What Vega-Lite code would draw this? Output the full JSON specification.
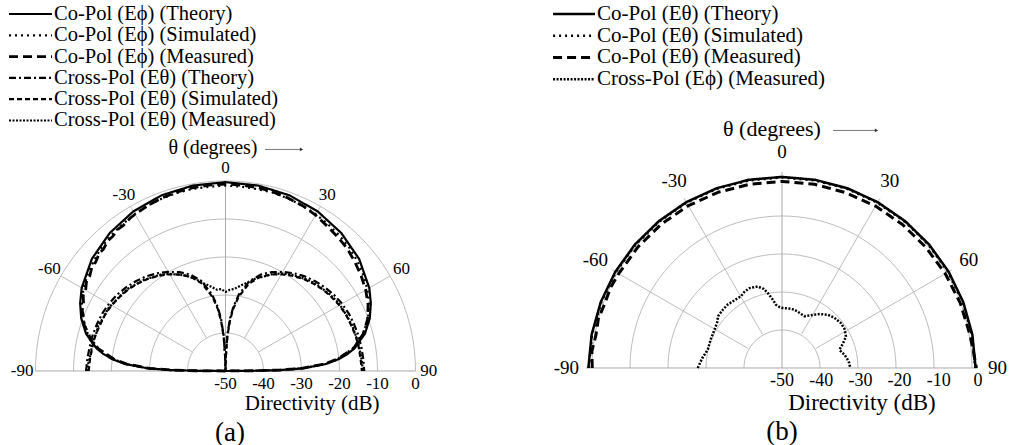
{
  "$schema": "https://vega.github.io/schema/vega-lite/v6.json",
  "background": "white",
  "padding": 0,
  "bounds": "flush",
  "spacing": 0,
  "config": {"view": {"stroke": null}, "text": {"font": "Liberation Serif", "color": "black"}, "mark": {"font": "Liberation Serif"}},
  "datasets": {
    "a_curves": [
      {"s":"coT","t":-90,"d":-50},{"s":"coT","t":-89.6,"d":-43},{"s":"coT","t":-89,"d":-35.5},{"s":"coT","t":-88,"d":-29.5},{"s":"coT","t":-86,"d":-23.5},{"s":"coT","t":-84,"d":-20},{"s":"coT","t":-82,"d":-17.5},{"s":"coT","t":-80,"d":-15.5},{"s":"coT","t":-75,"d":-12},{"s":"coT","t":-70,"d":-9.6},{"s":"coT","t":-65,"d":-7.8},{"s":"coT","t":-60,"d":-6.3},{"s":"coT","t":-50,"d":-4.1},{"s":"coT","t":-40,"d":-2.6},{"s":"coT","t":-30,"d":-1.5},{"s":"coT","t":-20,"d":-0.8},{"s":"coT","t":-10,"d":-0.45},{"s":"coT","t":0,"d":-0.3},{"s":"coT","t":10,"d":-0.45},{"s":"coT","t":20,"d":-0.8},{"s":"coT","t":30,"d":-1.5},{"s":"coT","t":40,"d":-2.6},{"s":"coT","t":50,"d":-4.1},{"s":"coT","t":60,"d":-6.3},{"s":"coT","t":65,"d":-7.8},{"s":"coT","t":70,"d":-9.6},{"s":"coT","t":75,"d":-12},{"s":"coT","t":80,"d":-15.5},{"s":"coT","t":82,"d":-17.5},{"s":"coT","t":84,"d":-20},{"s":"coT","t":86,"d":-23.5},{"s":"coT","t":88,"d":-29.5},{"s":"coT","t":89,"d":-35.5},{"s":"coT","t":89.6,"d":-43},{"s":"coT","t":90,"d":-50},
      {"s":"coS","t":-90,"d":-50},{"s":"coS","t":-89.5,"d":-41},{"s":"coS","t":-89,"d":-35},{"s":"coS","t":-88,"d":-29.5},{"s":"coS","t":-86,"d":-23.8},{"s":"coS","t":-84,"d":-20.4},{"s":"coS","t":-80,"d":-16},{"s":"coS","t":-75,"d":-12.5},{"s":"coS","t":-70,"d":-10.1},{"s":"coS","t":-65,"d":-8.3},{"s":"coS","t":-60,"d":-6.8},{"s":"coS","t":-55,"d":-5.7},{"s":"coS","t":-50,"d":-4.8},{"s":"coS","t":-45,"d":-3.9},{"s":"coS","t":-40,"d":-3.3},{"s":"coS","t":-35,"d":-2.8},{"s":"coS","t":-30,"d":-2.3},{"s":"coS","t":-25,"d":-1.9},{"s":"coS","t":-20,"d":-1.6},{"s":"coS","t":-15,"d":-1.4},{"s":"coS","t":-10,"d":-1.3},{"s":"coS","t":-5,"d":-1.3},{"s":"coS","t":0,"d":-1.2},{"s":"coS","t":5,"d":-1.3},{"s":"coS","t":10,"d":-1.4},{"s":"coS","t":15,"d":-1.4},{"s":"coS","t":20,"d":-1.7},{"s":"coS","t":25,"d":-2.0},{"s":"coS","t":30,"d":-2.4},{"s":"coS","t":35,"d":-2.9},{"s":"coS","t":40,"d":-3.4},{"s":"coS","t":45,"d":-4.0},{"s":"coS","t":50,"d":-4.8},{"s":"coS","t":55,"d":-5.8},{"s":"coS","t":60,"d":-6.9},{"s":"coS","t":65,"d":-8.3},{"s":"coS","t":70,"d":-10.1},{"s":"coS","t":75,"d":-12.5},{"s":"coS","t":80,"d":-16},{"s":"coS","t":84,"d":-20.4},{"s":"coS","t":86,"d":-23.8},{"s":"coS","t":88,"d":-29.5},{"s":"coS","t":89,"d":-35},{"s":"coS","t":89.5,"d":-41},{"s":"coS","t":90,"d":-50},
      {"s":"coM","t":-90,"d":-50},{"s":"coM","t":-89.5,"d":-42},{"s":"coM","t":-89,"d":-36},{"s":"coM","t":-88,"d":-30},{"s":"coM","t":-86,"d":-24},{"s":"coM","t":-84,"d":-20.5},{"s":"coM","t":-80,"d":-16},{"s":"coM","t":-77,"d":-13.5},{"s":"coM","t":-75,"d":-12.8},{"s":"coM","t":-72,"d":-10.9},{"s":"coM","t":-70,"d":-10.4},{"s":"coM","t":-67,"d":-9.0},{"s":"coM","t":-65,"d":-8.8},{"s":"coM","t":-62,"d":-7.6},{"s":"coM","t":-60,"d":-7.5},{"s":"coM","t":-57,"d":-6.4},{"s":"coM","t":-55,"d":-6.4},{"s":"coM","t":-52,"d":-5.4},{"s":"coM","t":-50,"d":-5.4},{"s":"coM","t":-47,"d":-4.6},{"s":"coM","t":-45,"d":-4.6},{"s":"coM","t":-42,"d":-3.8},{"s":"coM","t":-40,"d":-3.8},{"s":"coM","t":-37,"d":-3.2},{"s":"coM","t":-35,"d":-3.2},{"s":"coM","t":-32,"d":-2.6},{"s":"coM","t":-30,"d":-2.4},{"s":"coM","t":-25,"d":-1.9},{"s":"coM","t":-20,"d":-1.5},{"s":"coM","t":-15,"d":-1.2},{"s":"coM","t":-10,"d":-1.0},{"s":"coM","t":-5,"d":-0.9},{"s":"coM","t":0,"d":-0.8},{"s":"coM","t":5,"d":-0.9},{"s":"coM","t":10,"d":-1.0},{"s":"coM","t":15,"d":-1.3},{"s":"coM","t":20,"d":-1.6},{"s":"coM","t":25,"d":-2.0},{"s":"coM","t":30,"d":-2.6},{"s":"coM","t":35,"d":-3.4},{"s":"coM","t":40,"d":-4.0},{"s":"coM","t":45,"d":-4.6},{"s":"coM","t":50,"d":-5.5},{"s":"coM","t":55,"d":-6.4},{"s":"coM","t":60,"d":-7.4},{"s":"coM","t":65,"d":-8.6},{"s":"coM","t":70,"d":-10.2},{"s":"coM","t":75,"d":-12.5},{"s":"coM","t":80,"d":-15.8},{"s":"coM","t":84,"d":-20.5},{"s":"coM","t":86,"d":-24},{"s":"coM","t":88,"d":-30},{"s":"coM","t":89,"d":-36},{"s":"coM","t":89.5,"d":-42},{"s":"coM","t":90,"d":-50},
      {"s":"xT","t":-90,"d":-13.3},{"s":"xT","t":-85,"d":-13.5},{"s":"xT","t":-80,"d":-13.7},{"s":"xT","t":-75,"d":-13.8},{"s":"xT","t":-70,"d":-14.0},{"s":"xT","t":-65,"d":-14.2},{"s":"xT","t":-60,"d":-14.6},{"s":"xT","t":-55,"d":-15.1},{"s":"xT","t":-50,"d":-15.8},{"s":"xT","t":-45,"d":-16.6},{"s":"xT","t":-40,"d":-17.5},{"s":"xT","t":-35,"d":-18.6},{"s":"xT","t":-30,"d":-19.9},{"s":"xT","t":-25,"d":-21.3},{"s":"xT","t":-20,"d":-23.0},{"s":"xT","t":-15,"d":-25.5},{"s":"xT","t":-10,"d":-29.5},{"s":"xT","t":-7,"d":-33},{"s":"xT","t":-5,"d":-36},{"s":"xT","t":-3,"d":-40.5},{"s":"xT","t":-1.5,"d":-46},{"s":"xT","t":0,"d":-50},{"s":"xT","t":1.5,"d":-46},{"s":"xT","t":3,"d":-40.5},{"s":"xT","t":5,"d":-36},{"s":"xT","t":7,"d":-33},{"s":"xT","t":10,"d":-29.5},{"s":"xT","t":15,"d":-25.5},{"s":"xT","t":20,"d":-23},{"s":"xT","t":25,"d":-21.3},{"s":"xT","t":30,"d":-19.9},{"s":"xT","t":35,"d":-18.6},{"s":"xT","t":40,"d":-17.5},{"s":"xT","t":45,"d":-16.6},{"s":"xT","t":50,"d":-15.8},{"s":"xT","t":55,"d":-15.1},{"s":"xT","t":60,"d":-14.6},{"s":"xT","t":65,"d":-14.2},{"s":"xT","t":70,"d":-14.0},{"s":"xT","t":75,"d":-13.8},{"s":"xT","t":80,"d":-13.7},{"s":"xT","t":85,"d":-13.6},{"s":"xT","t":90,"d":-13.5},
      {"s":"xS","t":-90,"d":-14.0},{"s":"xS","t":-85,"d":-14.2},{"s":"xS","t":-80,"d":-14.4},{"s":"xS","t":-75,"d":-14.5},{"s":"xS","t":-70,"d":-14.8},{"s":"xS","t":-65,"d":-15.0},{"s":"xS","t":-60,"d":-15.4},{"s":"xS","t":-55,"d":-16.0},{"s":"xS","t":-50,"d":-16.6},{"s":"xS","t":-45,"d":-17.4},{"s":"xS","t":-40,"d":-18.3},{"s":"xS","t":-35,"d":-19.4},{"s":"xS","t":-30,"d":-20.6},{"s":"xS","t":-25,"d":-22.0},{"s":"xS","t":-20,"d":-23.7},{"s":"xS","t":-15,"d":-26.2},{"s":"xS","t":-10,"d":-30.2},{"s":"xS","t":-7,"d":-33.6},{"s":"xS","t":-5,"d":-36.8},{"s":"xS","t":-3,"d":-41},{"s":"xS","t":-1.5,"d":-46},{"s":"xS","t":0,"d":-50},{"s":"xS","t":1.5,"d":-46},{"s":"xS","t":3,"d":-41},{"s":"xS","t":5,"d":-36.8},{"s":"xS","t":7,"d":-33.6},{"s":"xS","t":10,"d":-30.2},{"s":"xS","t":15,"d":-26.2},{"s":"xS","t":20,"d":-23.7},{"s":"xS","t":25,"d":-22},{"s":"xS","t":30,"d":-20.6},{"s":"xS","t":35,"d":-19.4},{"s":"xS","t":40,"d":-18.3},{"s":"xS","t":45,"d":-17.4},{"s":"xS","t":50,"d":-16.6},{"s":"xS","t":55,"d":-16},{"s":"xS","t":60,"d":-15.4},{"s":"xS","t":65,"d":-15},{"s":"xS","t":70,"d":-14.8},{"s":"xS","t":75,"d":-14.5},{"s":"xS","t":80,"d":-14.4},{"s":"xS","t":85,"d":-14.3},{"s":"xS","t":90,"d":-14.1},
      {"s":"xM","t":-90,"d":-13.6},{"s":"xM","t":-86,"d":-13.9},{"s":"xM","t":-82,"d":-14.3},{"s":"xM","t":-78,"d":-14.1},{"s":"xM","t":-74,"d":-14.6},{"s":"xM","t":-70,"d":-14.4},{"s":"xM","t":-66,"d":-15.0},{"s":"xM","t":-62,"d":-15.0},{"s":"xM","t":-58,"d":-15.6},{"s":"xM","t":-54,"d":-16.0},{"s":"xM","t":-50,"d":-16.4},{"s":"xM","t":-46,"d":-17.2},{"s":"xM","t":-42,"d":-17.8},{"s":"xM","t":-38,"d":-18.7},{"s":"xM","t":-34,"d":-19.4},{"s":"xM","t":-30,"d":-20.5},{"s":"xM","t":-26,"d":-21.8},{"s":"xM","t":-22,"d":-23.0},{"s":"xM","t":-18,"d":-24.6},{"s":"xM","t":-14,"d":-26.2},{"s":"xM","t":-10,"d":-27.4},{"s":"xM","t":-6,"d":-28.5},{"s":"xM","t":-3,"d":-28.4},{"s":"xM","t":0,"d":-29.2},{"s":"xM","t":3,"d":-28.6},{"s":"xM","t":6,"d":-28.3},{"s":"xM","t":10,"d":-27.2},{"s":"xM","t":14,"d":-26.0},{"s":"xM","t":18,"d":-24.4},{"s":"xM","t":22,"d":-23.2},{"s":"xM","t":26,"d":-21.6},{"s":"xM","t":30,"d":-20.4},{"s":"xM","t":34,"d":-19.3},{"s":"xM","t":38,"d":-18.6},{"s":"xM","t":42,"d":-17.7},{"s":"xM","t":46,"d":-17.0},{"s":"xM","t":50,"d":-16.5},{"s":"xM","t":54,"d":-15.9},{"s":"xM","t":58,"d":-15.4},{"s":"xM","t":62,"d":-15.1},{"s":"xM","t":66,"d":-14.9},{"s":"xM","t":70,"d":-14.6},{"s":"xM","t":74,"d":-14.5},{"s":"xM","t":78,"d":-14.3},{"s":"xM","t":82,"d":-14.2},{"s":"xM","t":86,"d":-14.0},{"s":"xM","t":90,"d":-13.9}
    ],
    "b_curves": [
      {"s":"coT","t":-90,"d":-0.6},{"s":"coT","t":-80,"d":-0.7},{"s":"coT","t":-70,"d":-0.8},{"s":"coT","t":-60,"d":-0.9},{"s":"coT","t":-50,"d":-1.0},{"s":"coT","t":-40,"d":-1.1},{"s":"coT","t":-30,"d":-1.15},{"s":"coT","t":-20,"d":-1.2},{"s":"coT","t":-10,"d":-1.25},{"s":"coT","t":0,"d":-1.25},{"s":"coT","t":10,"d":-1.25},{"s":"coT","t":20,"d":-1.2},{"s":"coT","t":30,"d":-1.15},{"s":"coT","t":40,"d":-1.1},{"s":"coT","t":50,"d":-1.0},{"s":"coT","t":60,"d":-0.9},{"s":"coT","t":70,"d":-0.8},{"s":"coT","t":80,"d":-0.7},{"s":"coT","t":90,"d":-0.6},
      {"s":"coS","t":-90,"d":-0.7},{"s":"coS","t":-80,"d":-0.8},{"s":"coS","t":-70,"d":-0.95},{"s":"coS","t":-60,"d":-1.05},{"s":"coS","t":-50,"d":-1.15},{"s":"coS","t":-40,"d":-1.25},{"s":"coS","t":-30,"d":-1.3},{"s":"coS","t":-20,"d":-1.35},{"s":"coS","t":-10,"d":-1.4},{"s":"coS","t":0,"d":-1.4},{"s":"coS","t":10,"d":-1.4},{"s":"coS","t":20,"d":-1.35},{"s":"coS","t":30,"d":-1.3},{"s":"coS","t":40,"d":-1.25},{"s":"coS","t":50,"d":-1.15},{"s":"coS","t":60,"d":-1.05},{"s":"coS","t":70,"d":-0.95},{"s":"coS","t":80,"d":-0.8},{"s":"coS","t":90,"d":-0.7},
      {"s":"coM","t":-90,"d":-1.6},{"s":"coM","t":-85,"d":-1.3},{"s":"coM","t":-80,"d":-1.8},{"s":"coM","t":-75,"d":-1.5},{"s":"coM","t":-70,"d":-1.9},{"s":"coM","t":-65,"d":-1.7},{"s":"coM","t":-60,"d":-1.9},{"s":"coM","t":-50,"d":-2.0},{"s":"coM","t":-40,"d":-2.1},{"s":"coM","t":-30,"d":-2.2},{"s":"coM","t":-20,"d":-2.3},{"s":"coM","t":-10,"d":-2.4},{"s":"coM","t":0,"d":-2.4},{"s":"coM","t":10,"d":-2.4},{"s":"coM","t":20,"d":-2.4},{"s":"coM","t":30,"d":-2.3},{"s":"coM","t":40,"d":-2.2},{"s":"coM","t":50,"d":-2.1},{"s":"coM","t":60,"d":-1.9},{"s":"coM","t":70,"d":-1.6},{"s":"coM","t":80,"d":-1.3},{"s":"coM","t":85,"d":-1.0},{"s":"coM","t":90,"d":-0.4},
      {"s":"xM","t":-90,"d":-28.5},{"s":"xM","t":-83,"d":-29.5},{"s":"xM","t":-76,"d":-30.5},{"s":"xM","t":-68,"d":-30.4},{"s":"xM","t":-60.5,"d":-30.2},{"s":"xM","t":-55,"d":-29.8},{"s":"xM","t":-51,"d":-29},{"s":"xM","t":-45,"d":-28.8},{"s":"xM","t":-40.6,"d":-28.7},{"s":"xM","t":-35,"d":-28.9},{"s":"xM","t":-29.8,"d":-28.9},{"s":"xM","t":-26,"d":-28.3},{"s":"xM","t":-22.2,"d":-28},{"s":"xM","t":-16.6,"d":-28.3},{"s":"xM","t":-13,"d":-29.3},{"s":"xM","t":-10.8,"d":-30.5},{"s":"xM","t":-8,"d":-32.2},{"s":"xM","t":-5.4,"d":-33.8},{"s":"xM","t":-2,"d":-34.5},{"s":"xM","t":0.7,"d":-34.7},{"s":"xM","t":6,"d":-34.7},{"s":"xM","t":11.9,"d":-34.8},{"s":"xM","t":17,"d":-35.2},{"s":"xM","t":23.3,"d":-35.6},{"s":"xM","t":27,"d":-35},{"s":"xM","t":31.2,"d":-34.1},{"s":"xM","t":35,"d":-33.2},{"s":"xM","t":40.6,"d":-32.1},{"s":"xM","t":46,"d":-31.5},{"s":"xM","t":52.7,"d":-31.1},{"s":"xM","t":58,"d":-31.2},{"s":"xM","t":63.7,"d":-31.8},{"s":"xM","t":68,"d":-33.2},{"s":"xM","t":72.3,"d":-34.6},{"s":"xM","t":75,"d":-34.3},{"s":"xM","t":77.9,"d":-33.7},{"s":"xM","t":82,"d":-33.2},{"s":"xM","t":85.7,"d":-32.8},{"s":"xM","t":90,"d":-32.6}
    ],
    "a_legend": [
      {"s":"coT","k":0,"l":"Co-Pol (Eϕ) (Theory)"},
      {"s":"coS","k":1,"l":"Co-Pol (Eϕ) (Simulated)"},
      {"s":"coM","k":2,"l":"Co-Pol (Eϕ) (Measured)"},
      {"s":"xT","k":3,"l":"Cross-Pol (Eθ) (Theory)"},
      {"s":"xS","k":4,"l":"Cross-Pol (Eθ) (Simulated)"},
      {"s":"xM","k":5,"l":"Cross-Pol (Eθ) (Measured)"}
    ],
    "b_legend": [
      {"s":"coT","k":0,"l":"Co-Pol (Eθ) (Theory)"},
      {"s":"coS","k":1,"l":"Co-Pol (Eθ) (Simulated)"},
      {"s":"coM","k":2,"l":"Co-Pol (Eθ) (Measured)"},
      {"s":"xM","k":3,"l":"Cross-Pol (Eϕ) (Measured)"}
    ],
    "rings": [{"r":10},{"r":20},{"r":30},{"r":40},{"r":50}],
    "spokes": [{"a":-60},{"a":-30},{"a":30},{"a":60}],
    "angles": [{"a":-90,"l":"-90"},{"a":-60,"l":"-60"},{"a":-30,"l":"-30"},{"a":0,"l":"0"},{"a":30,"l":"30"},{"a":60,"l":"60"},{"a":90,"l":"90"}],
    "dbs": [{"v":-50,"l":"-50"},{"v":-40,"l":"-40"},{"v":-30,"l":"-30"},{"v":-20,"l":"-20"},{"v":-10,"l":"-10"},{"v":0,"l":"0"}],
    "one": [{}]
  },
  "hconcat": [
    {
      "width": 505,
      "height": 445,
      "layer": [
        {
          "data": {"name": "rings"},
          "mark": {"type": "point", "shape": "M -1 0 A 1 1 0 0 1 1 0", "filled": false, "color": "#bdbdbd", "strokeWidth": 1, "opacity": 1},
          "encoding": {
            "x": {"datum": 0, "type": "quantitative", "scale": {"domain": [-59.342, 73.553], "nice": false, "zero": false}, "axis": null},
            "y": {"datum": 0, "type": "quantitative", "scale": {"domain": [-19.474, 97.632], "nice": false, "zero": false}, "axis": null},
            "size": {"field": "r", "type": "quantitative", "scale": {"type": "pow", "exponent": 2, "domain": [0, 50], "range": [0, 144400], "zero": true}, "legend": null}
          }
        },
        {
          "data": {"name": "one"},
          "mark": {"type": "rule", "color": "#aaaaaa", "strokeWidth": 1},
          "encoding": {
            "x": {"datum": -50, "type": "quantitative", "scale": {"domain": [-59.342, 73.553], "nice": false, "zero": false}, "axis": null},
            "x2": {"datum": 50},
            "y": {"datum": 0, "type": "quantitative", "scale": {"domain": [-19.474, 97.632], "nice": false, "zero": false}, "axis": null}
          }
        },
        {
          "data": {"name": "one"},
          "mark": {"type": "rule", "color": "#aaaaaa", "strokeWidth": 1},
          "encoding": {
            "x": {"datum": 0, "type": "quantitative", "scale": {"domain": [-59.342, 73.553], "nice": false, "zero": false}, "axis": null},
            "y": {"datum": 0, "type": "quantitative", "scale": {"domain": [-19.474, 97.632], "nice": false, "zero": false}, "axis": null},
            "y2": {"datum": 50}
          }
        },
        {
          "data": {"name": "spokes"},
          "transform": [
            {"calculate": "10*sin(datum.a*PI/180)", "as": "sx1"},
            {"calculate": "10*cos(datum.a*PI/180)", "as": "sy1"},
            {"calculate": "50*sin(datum.a*PI/180)", "as": "sx2"},
            {"calculate": "50*cos(datum.a*PI/180)", "as": "sy2"}
          ],
          "mark": {"type": "rule", "color": "#bdbdbd", "strokeWidth": 1},
          "encoding": {
            "x": {"field": "sx1", "type": "quantitative", "scale": {"domain": [-59.342, 73.553], "nice": false, "zero": false}, "axis": null},
            "y": {"field": "sy1", "type": "quantitative", "scale": {"domain": [-19.474, 97.632], "nice": false, "zero": false}, "axis": null},
            "x2": {"field": "sx2"},
            "y2": {"field": "sy2"}
          }
        },
        {
          "data": {"name": "a_curves"},
          "transform": [
            {"calculate": "(datum.d+50)*sin(datum.t*PI/180)", "as": "px"},
            {"calculate": "(datum.d+50)*cos(datum.t*PI/180)", "as": "py"}
          ],
          "mark": {"type": "line", "color": "black", "strokeJoin": "round"},
          "encoding": {
            "x": {"field": "px", "type": "quantitative", "scale": {"domain": [-59.342, 73.553], "nice": false, "zero": false}, "axis": null},
            "y": {"field": "py", "type": "quantitative", "scale": {"domain": [-19.474, 97.632], "nice": false, "zero": false}, "axis": null},
            "order": {"field": "t", "type": "quantitative"},
            "strokeDash": {"field": "s", "type": "nominal", "scale": {"domain": ["coT","coS","coM","xT","xS","xM"], "range": [[1,0],[2,4],[9,5],[7,3,2,3],[5,3],[2,1.5]]}, "legend": null},
            "strokeWidth": {"condition": {"test": "datum.s === 'coM'", "value": 2.8}, "value": 2.2}
          }
        },
        {
          "data": {"name": "angles"},
          "transform": [
            {"calculate": "53.5*sin(datum.a*PI/180)", "as": "lx"},
            {"calculate": "53.5*cos(datum.a*PI/180)", "as": "ly"}
          ],
          "mark": {"type": "text", "font": "Liberation Serif", "fontSize": 17, "align": "center", "baseline": "middle"},
          "encoding": {
            "x": {"field": "lx", "type": "quantitative", "scale": {"domain": [-59.342, 73.553], "nice": false, "zero": false}, "axis": null},
            "y": {"field": "ly", "type": "quantitative", "scale": {"domain": [-19.474, 97.632], "nice": false, "zero": false}, "axis": null},
            "text": {"field": "l", "type": "nominal"}
          }
        },
        {
          "data": {"name": "dbs"},
          "transform": [{"calculate": "datum.v+50", "as": "bx"}],
          "mark": {"type": "text", "font": "Liberation Serif", "fontSize": 17, "align": "center", "baseline": "middle"},
          "encoding": {
            "x": {"field": "bx", "type": "quantitative", "scale": {"domain": [-59.342, 73.553], "nice": false, "zero": false}, "axis": null},
            "y": {"datum": -3.4, "type": "quantitative", "scale": {"domain": [-19.474, 97.632], "nice": false, "zero": false}, "axis": null},
            "text": {"field": "l", "type": "nominal"}
          }
        },
        {
          "data": {"name": "one"},
          "mark": {"type": "text", "font": "Liberation Serif", "text": "θ (degrees)", "fontSize": 20, "align": "center", "baseline": "middle"},
          "encoding": {
            "x": {"datum": -3.3, "type": "quantitative", "scale": {"domain": [-59.342, 73.553], "nice": false, "zero": false}, "axis": null},
            "y": {"datum": 58.7, "type": "quantitative", "scale": {"domain": [-19.474, 97.632], "nice": false, "zero": false}, "axis": null}
          }
        },
        {
          "data": {"name": "one"},
          "mark": {"type": "rule", "color": "#777777", "strokeWidth": 1},
          "encoding": {
            "x": {"datum": 10.4, "type": "quantitative", "scale": {"domain": [-59.342, 73.553], "nice": false, "zero": false}, "axis": null},
            "x2": {"datum": 19.6},
            "y": {"datum": 58.3, "type": "quantitative", "scale": {"domain": [-19.474, 97.632], "nice": false, "zero": false}, "axis": null}
          }
        },
        {
          "data": {"name": "one"},
          "mark": {"type": "point", "shape": "triangle-right", "size": 14, "filled": true, "color": "#333333", "opacity": 1},
          "encoding": {
            "x": {"datum": 20.0, "type": "quantitative", "scale": {"domain": [-59.342, 73.553], "nice": false, "zero": false}, "axis": null},
            "y": {"datum": 58.3, "type": "quantitative", "scale": {"domain": [-19.474, 97.632], "nice": false, "zero": false}, "axis": null}
          }
        },
        {
          "data": {"name": "one"},
          "mark": {"type": "text", "font": "Liberation Serif", "text": "Directivity (dB)", "fontSize": 21, "align": "center", "baseline": "middle"},
          "encoding": {
            "x": {"datum": 22.8, "type": "quantitative", "scale": {"domain": [-59.342, 73.553], "nice": false, "zero": false}, "axis": null},
            "y": {"datum": -8.8, "type": "quantitative", "scale": {"domain": [-19.474, 97.632], "nice": false, "zero": false}, "axis": null}
          }
        },
        {
          "data": {"name": "one"},
          "mark": {"type": "text", "font": "Liberation Serif", "text": "(a)", "fontSize": 27, "align": "center", "baseline": "middle"},
          "encoding": {
            "x": {"datum": 1.2, "type": "quantitative", "scale": {"domain": [-59.342, 73.553], "nice": false, "zero": false}, "axis": null},
            "y": {"datum": -16.2, "type": "quantitative", "scale": {"domain": [-19.474, 97.632], "nice": false, "zero": false}, "axis": null}
          }
        },
        {
          "data": {"name": "a_legend"},
          "transform": [{"calculate": "93.95-5.605*datum.k", "as": "ly"}],
          "mark": {"type": "rule", "color": "black"},
          "encoding": {
            "x": {"datum": -56.97, "type": "quantitative", "scale": {"domain": [-59.342, 73.553], "nice": false, "zero": false}, "axis": null},
            "x2": {"datum": -45.66},
            "y": {"field": "ly", "type": "quantitative", "scale": {"domain": [-19.474, 97.632], "nice": false, "zero": false}, "axis": null},
            "strokeDash": {"field": "s", "type": "nominal", "scale": {"domain": ["coT","coS","coM","xT","xS","xM"], "range": [[1,0],[2,4],[9,5],[7,3,2,3],[5,3],[2,1.5]]}, "legend": null},
            "strokeWidth": {"condition": {"test": "datum.s === 'coM'", "value": 2.8}, "value": 2.2}
          }
        },
        {
          "data": {"name": "a_legend"},
          "transform": [{"calculate": "93.95-5.605*datum.k", "as": "ly"}],
          "mark": {"type": "text", "font": "Liberation Serif", "fontSize": 20.5, "align": "left", "baseline": "middle"},
          "encoding": {
            "x": {"datum": -45.1, "type": "quantitative", "scale": {"domain": [-59.342, 73.553], "nice": false, "zero": false}, "axis": null},
            "y": {"field": "ly", "type": "quantitative", "scale": {"domain": [-19.474, 97.632], "nice": false, "zero": false}, "axis": null},
            "text": {"field": "l", "type": "nominal"}
          }
        }
      ]
    },
    {
      "width": 507,
      "height": 445,
      "layer": [
        {
          "data": {"name": "rings"},
          "mark": {"type": "point", "shape": "M -1 0 A 1 1 0 0 1 1 0", "filled": false, "color": "#bdbdbd", "strokeWidth": 1, "opacity": 1},
          "encoding": {
            "x": {"datum": 0, "type": "quantitative", "scale": {"domain": [-70.663, 58.673], "nice": false, "zero": false}, "axis": null},
            "y": {"datum": 0, "type": "quantitative", "scale": {"domain": [-19.643, 93.878], "nice": false, "zero": false}, "axis": null},
            "size": {"field": "r", "type": "quantitative", "scale": {"type": "pow", "exponent": 2, "domain": [0, 50], "range": [0, 153664], "zero": true}, "legend": null}
          }
        },
        {
          "data": {"name": "one"},
          "mark": {"type": "rule", "color": "#aaaaaa", "strokeWidth": 1},
          "encoding": {
            "x": {"datum": -50, "type": "quantitative", "scale": {"domain": [-70.663, 58.673], "nice": false, "zero": false}, "axis": null},
            "x2": {"datum": 50},
            "y": {"datum": 0, "type": "quantitative", "scale": {"domain": [-19.643, 93.878], "nice": false, "zero": false}, "axis": null}
          }
        },
        {
          "data": {"name": "one"},
          "mark": {"type": "rule", "color": "#aaaaaa", "strokeWidth": 1},
          "encoding": {
            "x": {"datum": 0, "type": "quantitative", "scale": {"domain": [-70.663, 58.673], "nice": false, "zero": false}, "axis": null},
            "y": {"datum": 0, "type": "quantitative", "scale": {"domain": [-19.643, 93.878], "nice": false, "zero": false}, "axis": null},
            "y2": {"datum": 50}
          }
        },
        {
          "data": {"name": "spokes"},
          "transform": [
            {"calculate": "10*sin(datum.a*PI/180)", "as": "sx1"},
            {"calculate": "10*cos(datum.a*PI/180)", "as": "sy1"},
            {"calculate": "50*sin(datum.a*PI/180)", "as": "sx2"},
            {"calculate": "50*cos(datum.a*PI/180)", "as": "sy2"}
          ],
          "mark": {"type": "rule", "color": "#bdbdbd", "strokeWidth": 1},
          "encoding": {
            "x": {"field": "sx1", "type": "quantitative", "scale": {"domain": [-70.663, 58.673], "nice": false, "zero": false}, "axis": null},
            "y": {"field": "sy1", "type": "quantitative", "scale": {"domain": [-19.643, 93.878], "nice": false, "zero": false}, "axis": null},
            "x2": {"field": "sx2"},
            "y2": {"field": "sy2"}
          }
        },
        {
          "data": {"name": "b_curves"},
          "transform": [
            {"calculate": "(datum.d+50)*sin(datum.t*PI/180)", "as": "px"},
            {"calculate": "(datum.d+50)*cos(datum.t*PI/180)", "as": "py"}
          ],
          "mark": {"type": "line", "color": "black", "strokeJoin": "round"},
          "encoding": {
            "x": {"field": "px", "type": "quantitative", "scale": {"domain": [-70.663, 58.673], "nice": false, "zero": false}, "axis": null},
            "y": {"field": "py", "type": "quantitative", "scale": {"domain": [-19.643, 93.878], "nice": false, "zero": false}, "axis": null},
            "order": {"field": "t", "type": "quantitative"},
            "strokeDash": {"field": "s", "type": "nominal", "scale": {"domain": ["coT","coS","coM","xM"], "range": [[1,0],[2,4],[12,6],[3,1.5]]}, "legend": null},
            "strokeWidth": {"condition": {"test": "datum.s === 'coM'", "value": 3}, "value": 2.5}
          }
        },
        {
          "data": {"name": "angles"},
          "transform": [
            {"calculate": "55*sin(datum.a*PI/180)", "as": "lx"},
            {"calculate": "55*cos(datum.a*PI/180)", "as": "ly"}
          ],
          "mark": {"type": "text", "font": "Liberation Serif", "fontSize": 19, "align": "center", "baseline": "middle"},
          "encoding": {
            "x": {"field": "lx", "type": "quantitative", "scale": {"domain": [-70.663, 58.673], "nice": false, "zero": false}, "axis": null},
            "y": {"field": "ly", "type": "quantitative", "scale": {"domain": [-19.643, 93.878], "nice": false, "zero": false}, "axis": null},
            "text": {"field": "l", "type": "nominal"}
          }
        },
        {
          "data": {"name": "dbs"},
          "transform": [{"calculate": "datum.v+50", "as": "bx"}],
          "mark": {"type": "text", "font": "Liberation Serif", "fontSize": 18, "align": "center", "baseline": "middle"},
          "encoding": {
            "x": {"field": "bx", "type": "quantitative", "scale": {"domain": [-70.663, 58.673], "nice": false, "zero": false}, "axis": null},
            "y": {"datum": -3.3, "type": "quantitative", "scale": {"domain": [-19.643, 93.878], "nice": false, "zero": false}, "axis": null},
            "text": {"field": "l", "type": "nominal"}
          }
        },
        {
          "data": {"name": "one"},
          "mark": {"type": "text", "font": "Liberation Serif", "text": "θ (degrees)", "fontSize": 22, "align": "center", "baseline": "middle"},
          "encoding": {
            "x": {"datum": -2.55, "type": "quantitative", "scale": {"domain": [-70.663, 58.673], "nice": false, "zero": false}, "axis": null},
            "y": {"datum": 60.9, "type": "quantitative", "scale": {"domain": [-19.643, 93.878], "nice": false, "zero": false}, "axis": null}
          }
        },
        {
          "data": {"name": "one"},
          "mark": {"type": "rule", "color": "#777777", "strokeWidth": 1},
          "encoding": {
            "x": {"datum": 13.0, "type": "quantitative", "scale": {"domain": [-70.663, 58.673], "nice": false, "zero": false}, "axis": null},
            "x2": {"datum": 23.7},
            "y": {"datum": 60.6, "type": "quantitative", "scale": {"domain": [-19.643, 93.878], "nice": false, "zero": false}, "axis": null}
          }
        },
        {
          "data": {"name": "one"},
          "mark": {"type": "point", "shape": "triangle-right", "size": 14, "filled": true, "color": "#333333", "opacity": 1},
          "encoding": {
            "x": {"datum": 24.1, "type": "quantitative", "scale": {"domain": [-70.663, 58.673], "nice": false, "zero": false}, "axis": null},
            "y": {"datum": 60.6, "type": "quantitative", "scale": {"domain": [-19.643, 93.878], "nice": false, "zero": false}, "axis": null}
          }
        },
        {
          "data": {"name": "one"},
          "mark": {"type": "text", "font": "Liberation Serif", "text": "Directivity (dB)", "fontSize": 23, "align": "center", "baseline": "middle"},
          "encoding": {
            "x": {"datum": 20.4, "type": "quantitative", "scale": {"domain": [-70.663, 58.673], "nice": false, "zero": false}, "axis": null},
            "y": {"datum": -8.9, "type": "quantitative", "scale": {"domain": [-19.643, 93.878], "nice": false, "zero": false}, "axis": null}
          }
        },
        {
          "data": {"name": "one"},
          "mark": {"type": "text", "font": "Liberation Serif", "text": "(b)", "fontSize": 27, "align": "center", "baseline": "middle"},
          "encoding": {
            "x": {"datum": 0, "type": "quantitative", "scale": {"domain": [-70.663, 58.673], "nice": false, "zero": false}, "axis": null},
            "y": {"datum": -16.3, "type": "quantitative", "scale": {"domain": [-19.643, 93.878], "nice": false, "zero": false}, "axis": null}
          }
        },
        {
          "data": {"name": "b_legend"},
          "transform": [{"calculate": "90.3-5.536*datum.k", "as": "ly"}],
          "mark": {"type": "rule", "color": "black"},
          "encoding": {
            "x": {"datum": -58.4, "type": "quantitative", "scale": {"domain": [-70.663, 58.673], "nice": false, "zero": false}, "axis": null},
            "x2": {"datum": -47.7},
            "y": {"field": "ly", "type": "quantitative", "scale": {"domain": [-19.643, 93.878], "nice": false, "zero": false}, "axis": null},
            "strokeDash": {"field": "s", "type": "nominal", "scale": {"domain": ["coT","coS","coM","xM"], "range": [[1,0],[2,4],[12,6],[3,1.5]]}, "legend": null},
            "strokeWidth": {"condition": {"test": "datum.s === 'coM'", "value": 3}, "value": 2.5}
          }
        },
        {
          "data": {"name": "b_legend"},
          "transform": [{"calculate": "90.3-5.536*datum.k", "as": "ly"}],
          "mark": {"type": "text", "font": "Liberation Serif", "fontSize": 21, "align": "left", "baseline": "middle"},
          "encoding": {
            "x": {"datum": -47.2, "type": "quantitative", "scale": {"domain": [-70.663, 58.673], "nice": false, "zero": false}, "axis": null},
            "y": {"field": "ly", "type": "quantitative", "scale": {"domain": [-19.643, 93.878], "nice": false, "zero": false}, "axis": null},
            "text": {"field": "l", "type": "nominal"}
          }
        }
      ]
    }
  ]
}
